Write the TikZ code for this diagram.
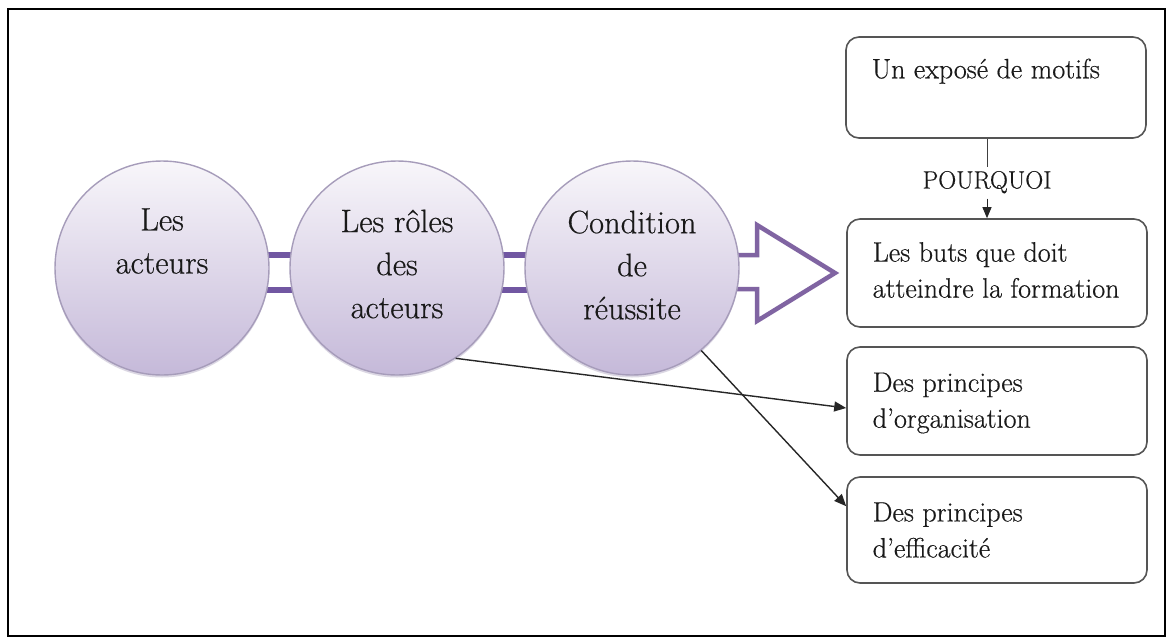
\documentclass[tikz,border=0pt]{standalone}
\usepackage{fontspec}
\setmainfont{Latin Modern Roman}[FakeBold=0.5]
\usetikzlibrary{calc,arrows.meta,shadows}
\definecolor{bubbletop}{HTML}{F8F6FA}
\definecolor{bubblebot}{HTML}{C5B9D9}
\definecolor{bubbleedge}{HTML}{A69CBA}
\definecolor{linkpurple}{HTML}{7157A2}
\definecolor{arrowpurple}{HTML}{8064A2}
\definecolor{boxedge}{HTML}{555555}
\begin{document}
\begin{tikzpicture}[x=1pt,y=-1pt,
  bubble/.style={circle, minimum size=214pt, inner sep=0pt, draw=bubbleedge,
    line width=1.4pt, top color=bubbletop, bottom color=bubblebot,
    drop shadow={shadow xshift=0pt, shadow yshift=-2.5pt, opacity=0.4, fill=bubbleedge}},
  bubbletext/.style={align=center, font=\fontsize{32.5}{43}\selectfont, text=black!90},
  link/.style={draw=linkpurple, line width=6pt},
  bigarrow/.style={draw=arrowpurple, line width=4.5pt, fill=white, line join=miter},
  box/.style={draw=boxedge, line width=1.6pt, rounded corners=13pt, minimum width=300pt,
    inner sep=0pt, fill=white},
  boxtext/.style={align=left, font=\fontsize{28}{36}\selectfont, anchor=west, text=black!90},
  flow/.style={draw=black!85, line width=1.4pt, -{Triangle[length=12pt,width=10pt]}},
  tag/.style={font=\fontsize{25}{26}\selectfont, inner xsep=2pt, inner ysep=0pt,
    text height=15pt, text depth=4pt, text=black!90}
]
\useasboundingbox (0,0) rectangle (1171,641);
\draw[line width=2.5pt] (8,9) rectangle (1165,636);

% positions of the three bubbles
\coordinate (p1) at (162,268);
\coordinate (p2) at (397,268);
\coordinate (p3) at (632,268);

% double links and the hollow arrow, drawn beneath the bubbles
\draw[link] ($(p1)+(0,-13)$) -- ($(p2)+(0,-13)$);
\draw[link] ($(p1)+(0,22)$) -- ($(p2)+(0,22)$);
\draw[link] ($(p2)+(0,-13)$) -- ($(p3)+(0,-13)$);
\draw[link] ($(p2)+(0,22)$) -- ($(p3)+(0,22)$);
\draw[bigarrow] ($(p3)+(0,-13)$) -- ($(p3)+(125,-13)$) -- ($(p3)+(125,-43)$)
  -- ($(p3)+(203,5)$) -- ($(p3)+(125,53)$) -- ($(p3)+(125,21)$) -- ($(p3)+(0,21)$);

% bubbles
\node[bubble] (c1) at (p1) {};
\node[bubble] (c2) at (p2) {};
\node[bubble] (c3) at (p3) {};
\node[bubbletext] (l1) at ($(c1.center)+(0,-27)$) {Les\\acteurs};
\node[bubbletext] (l2) at ($(c2.center)+(0,-4)$) {Les rôles\\des\\acteurs};
\node[bubbletext] (l3) at ($(c3.center)+(0,-3)$) {Condition\\de\\réussite};

% boxes on the right
\node[box, minimum height=101pt] (b1) at (996,87.5) {};
\node[box, minimum height=108pt] (b2) at (997,273) {};
\node[box, minimum height=108pt] (b3) at (997,401) {};
\node[box, minimum height=106pt] (b4) at (997,530) {};
\node[boxtext] (t1) at ($(b1.north west)+(23,35)$) {Un exposé de motifs};
\node[boxtext] (t2) at ($(b2.west)+(23,-3)$) {Les buts que doit\\atteindre la formation};
\node[boxtext] (t3) at ($(b3.west)+(23,2)$) {Des principes\\d’organisation};
\node[boxtext] (t4) at ($(b4.west)+(23,0)$) {Des principes\\d’efficacité};

% link between the two upper boxes
\node[tag] (pq) at (987,183) {POURQUOI};
\draw[line width=1pt, black!75] (pq.north |- b1.south) -- ($(pq.north)+(0,-6)$);
\draw[line width=1pt, black!85, -{Triangle[length=11pt,width=9pt]}] ($(pq.south)+(0,6)$) -- (pq.south |- b2.north);

% arrows from the bubbles
\draw[flow] (c2.-57) -- ($(b3.west)+(0,7)$);
\draw[flow] (c3.-50) -- ($(b4.north west)+(0,30)$);
\end{tikzpicture}
\end{document}
